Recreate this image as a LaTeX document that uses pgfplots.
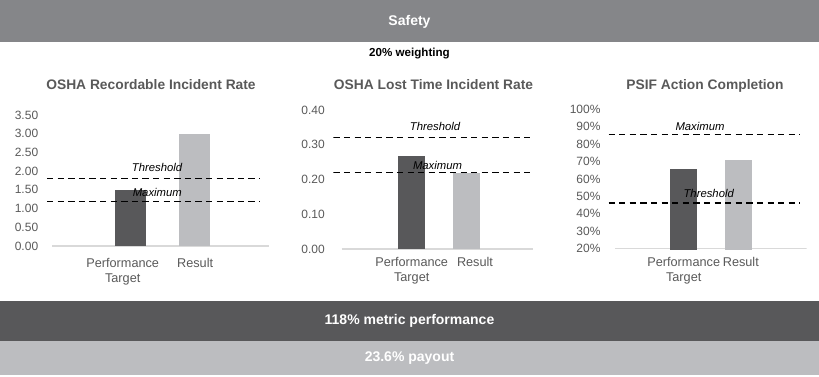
\documentclass[border=0pt]{standalone}
\usepackage{fontspec}
\setmainfont{Liberation Sans}
\usepackage{pgfplots}
\pgfplotsset{compat=1.18}
\definecolor{darkbar}{HTML}{58585A}
\definecolor{lightbar}{HTML}{BCBDC0}
\definecolor{topband}{HTML}{858689}
\definecolor{axisgray}{HTML}{D9D9D9}
\definecolor{txtgray}{HTML}{595959}
\newcommand{\fs}[2]{\fontsize{#1bp}{#2bp}\selectfont}
\pgfplotsset{
  kpi/.style={
    scale only axis,
    axis line style={draw=none},
    tick style={draw=none},
    major tick length=0pt,
    yticklabel style={font=\fs{12}{14}, text=txtgray},
    xticklabel style={font=\fs{12.7}{15}, text=txtgray, align=center},
  },
  thin dash/.style={black, line width=0.9bp, dash pattern=on 6.3bp off 4.3bp},
}
\begin{document}
\begin{tikzpicture}[x=1bp,y=1bp]
\path[use as bounding box] (0,0) rectangle (819,376);
% banners
\fill[topband] (0,376) rectangle (819,334);
\fill[darkbar] (0,75) rectangle (819,35.5);
\fill[lightbar] (0,35.5) rectangle (819,1);
\node[anchor=base, inner sep=0, text=white, font=\fs{14}{16}\bfseries] at (409.5,350.5) {Safety};
\node[anchor=base, inner sep=0, text=black, font=\fs{11.6}{13}\bfseries] at (409.5,320) {20\% weighting};
\node[anchor=base, inner sep=0, text=txtgray, font=\fs{13.8}{16}\bfseries] at (151,287) {OSHA Recordable Incident Rate};
\node[anchor=base, inner sep=0, text=txtgray, font=\fs{13.8}{16}\bfseries] at (433.5,287) {OSHA Lost Time Incident Rate};
\node[anchor=base, inner sep=0, text=txtgray, font=\fs{13.8}{16}\bfseries] at (705,287) {PSIF Action Completion};
\node[anchor=base, inner sep=0, text=white, font=\fs{14}{16}\bfseries] at (409.5,51.2) {118\% metric performance};
\node[anchor=base, inner sep=0, text=white, font=\fs{14}{16}\bfseries] at (409.5,14.3) {23.6\% payout};

% Chart 1
\begin{axis}[kpi, at={(47bp,128.5bp)}, anchor=south west,
  width=222bp, height=132.5bp,
  xmin=-0.2975, xmax=3.1604, ymin=-0.04, ymax=3.5,
  ytick={0,0.5,1,1.5,2,2.5,3,3.5},
  yticklabels={0.00,0.50,1.00,1.50,2.00,2.50,3.00,3.50},
  yticklabel style={xshift=-5.3bp},
  xtick={0.8816,2.01}, xticklabels={{Performance\\Target},Result},
  xticklabel style={yshift=-6.8bp}]
  \addplot[axisgray, line width=1.3bp] coordinates {(-0.2196,0) (3.1604,0)};
  \addplot[ybar, bar width=31bp, bar shift=0pt, fill=darkbar, draw=none] coordinates {(1,1.5)};
  \addplot[ybar, bar width=31bp, bar shift=0pt, fill=lightbar, draw=none] coordinates {(2,3.0)};
  \addplot[thin dash] coordinates {(-0.2975,1.81) (3.0202,1.81)};
  \addplot[thin dash] coordinates {(-0.2975,1.18) (3.0202,1.18)};
\end{axis}
\node[anchor=base, inner sep=0, font=\fs{11.3}{13}\itshape] at (157,204.5) {Threshold};
\node[anchor=base, inner sep=0, font=\fs{11.3}{13}\itshape] at (157.3,179.3) {Maximum};

% Chart 2
\begin{axis}[kpi, at={(333.3bp,125.6bp)}, anchor=south west,
  width=199.7bp, height=140.4bp,
  xmin=-0.4255, xmax=3.2055, ymin=-0.004, ymax=0.4,
  ytick={0,0.1,0.2,0.3,0.4},
  yticklabels={0.00,0.10,0.20,0.30,0.40},
  yticklabel style={xshift=-5bp},
  xtick={1,2.151}, xticklabels={{Performance\\Target},Result},
  xticklabel style={yshift=-3.5bp}]
  \addplot[axisgray, line width=1.3bp] coordinates {(-0.2727,0) (3.2055,0)};
  \addplot[ybar, bar width=27bp, bar shift=0pt, fill=darkbar, draw=none] coordinates {(1,0.267)};
  \addplot[ybar, bar width=27bp, bar shift=0pt, fill=lightbar, draw=none] coordinates {(2,0.219)};
  \addplot[thin dash] coordinates {(-0.4255,0.322) (3.151,0.322)};
  \addplot[thin dash] coordinates {(-0.4255,0.221) (3.151,0.221)};
\end{axis}
\node[anchor=base, inner sep=0, font=\fs{11.3}{13}\itshape] at (435,246) {Threshold};
\node[anchor=base, inner sep=0, font=\fs{11.3}{13}\itshape] at (437.5,207) {Maximum};

% Chart 3
\begin{axis}[kpi, at={(608.5bp,126.5bp)}, anchor=south west,
  width=198.2bp, height=140.5bp,
  xmin=-0.3773, xmax=3.2527, ymin=19.6, ymax=100,
  ytick={20,30,40,50,60,70,80,90,100},
  yticklabels={20\%,30\%,40\%,50\%,60\%,70\%,80\%,90\%,100\%},
  yticklabel style={xshift=-4.5bp},
  xtick={1,2.046}, xticklabels={{Performance\\Target},Result},
  xticklabel style={yshift=-4.4bp}]
  \addplot[axisgray, line width=1.3bp] coordinates {(-0.2582,20) (3.2527,20)};
  \addplot[ybar, bar width=26.5bp, bar shift=0pt, fill=darkbar, draw=none] coordinates {(1,65.4)};
  \addplot[ybar, bar width=26.5bp, bar shift=0pt, fill=lightbar, draw=none] coordinates {(2,71.1)};
  \addplot[thin dash] coordinates {(-0.3773,85.6) (3.13,85.6)};
  \addplot[black, line width=2bp, dash pattern=on 6.3bp off 4.3bp] coordinates {(-0.3773,46.0) (3.13,46.0)};
\end{axis}
\node[anchor=base, inner sep=0, font=\fs{11.3}{13}\itshape] at (700,245.3) {Maximum};
\node[anchor=base, inner sep=0, font=\fs{11.3}{13}\itshape] at (708.7,178.3) {Threshold};
\end{tikzpicture}
\end{document}
